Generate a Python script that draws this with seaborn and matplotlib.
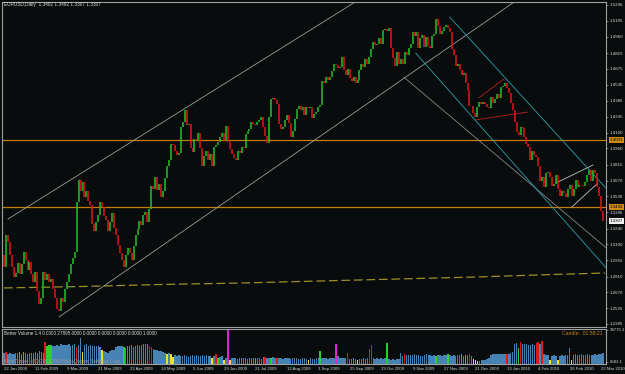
import numpy as np
import pandas as pd
import matplotlib
matplotlib.use("Agg")
import matplotlib.pyplot as plt
import matplotlib.transforms as mtransforms
import seaborn as sns

# EURUSD daily closes, one row per 16-bar date label on the x axis
first_open = 1.300
closes_a = [
    1.290, 1.318, 1.312, 1.300, 1.290, 1.281, 1.284, 1.293, 1.283, 1.292, 1.303, 1.296, 1.287, 1.294, 1.283, 1.276,
    1.285, 1.268, 1.256, 1.262, 1.285, 1.278, 1.283, 1.276, 1.279, 1.270, 1.262, 1.252, 1.250, 1.262, 1.258, 1.270,
    1.276, 1.283, 1.292, 1.298, 1.303, 1.348, 1.368, 1.358, 1.366, 1.352, 1.358, 1.349, 1.345, 1.328, 1.322, 1.330,
    1.336, 1.348, 1.343, 1.335, 1.332, 1.322, 1.330, 1.338, 1.325, 1.318, 1.309, 1.302, 1.296, 1.290, 1.300, 1.307,
]
closes_b = [
    1.302, 1.296, 1.308, 1.318, 1.324, 1.331, 1.327, 1.336, 1.339, 1.330, 1.342, 1.362, 1.360, 1.370, 1.359, 1.364,
    1.352, 1.358, 1.369, 1.380, 1.386, 1.400, 1.399, 1.394, 1.390, 1.392, 1.415, 1.420, 1.430, 1.417, 1.418, 1.396,
    1.393, 1.404, 1.403, 1.410, 1.396, 1.380, 1.389, 1.394, 1.386, 1.391, 1.380, 1.397, 1.399, 1.402, 1.406, 1.410,
    1.403, 1.416, 1.402, 1.395, 1.391, 1.387, 1.386, 1.394, 1.392, 1.397, 1.396, 1.409, 1.412, 1.413, 1.420, 1.418,
]
closes_c = [
    1.417, 1.420, 1.421, 1.424, 1.415, 1.407, 1.401, 1.424, 1.440, 1.441, 1.439, 1.436, 1.418, 1.413, 1.415, 1.421,
    1.426, 1.419, 1.406, 1.412, 1.422, 1.431, 1.434, 1.430, 1.433, 1.426, 1.433, 1.432, 1.433, 1.423, 1.427, 1.429,
    1.433, 1.435, 1.456, 1.455, 1.460, 1.457, 1.460, 1.465, 1.472, 1.471, 1.468, 1.469, 1.478, 1.466, 1.462, 1.467,
    1.459, 1.456, 1.460, 1.455, 1.457, 1.466, 1.472, 1.469, 1.476, 1.472, 1.478, 1.485, 1.491, 1.489, 1.490, 1.495,
]
closes_d = [
    1.490, 1.502, 1.503, 1.501, 1.504, 1.486, 1.477, 1.470, 1.482, 1.472, 1.476, 1.472, 1.482, 1.480, 1.486, 1.490,
    1.500, 1.497, 1.500, 1.486, 1.495, 1.498, 1.487, 1.496, 1.488, 1.486, 1.497, 1.499, 1.512, 1.506, 1.499, 1.501,
    1.505, 1.507, 1.504, 1.500, 1.485, 1.480, 1.470, 1.472, 1.466, 1.462, 1.464, 1.455, 1.448, 1.434, 1.434, 1.428,
    1.424, 1.433, 1.438, 1.436, 1.438, 1.436, 1.433, 1.432, 1.442, 1.437, 1.440, 1.445, 1.441, 1.451, 1.452, 1.455,
]
closes_e = [
    1.450, 1.446, 1.437, 1.430, 1.420, 1.411, 1.408, 1.415, 1.414, 1.406, 1.400, 1.397, 1.386, 1.394, 1.390, 1.388,
    1.380, 1.367, 1.370, 1.361, 1.374, 1.375, 1.370, 1.362, 1.364, 1.372, 1.360, 1.353, 1.358, 1.356, 1.352, 1.360,
    1.363, 1.353, 1.360, 1.368, 1.361, 1.363, 1.363, 1.362, 1.366, 1.372, 1.377, 1.367, 1.377, 1.374, 1.361, 1.353,
    1.3402, 1.3307,
]

# Better Volume histogram, thousands of ticks, and its colour code per bar
volume_a = [
    30, 33, 28, 31, 29, 27, 30, 32, 34, 29, 33, 30, 28, 31, 30, 32,
    33, 30, 36, 34, 31, 62, 50, 52, 54, 51, 49, 53, 50, 55, 52, 54,
    52, 55, 50, 53, 56, 48, 54, 72, 34, 52, 55, 50, 53, 49, 51, 50,
    50, 48, 39, 36, 33, 30, 35, 38, 40, 48, 50, 51, 49, 47, 45, 50,
]
volume_b = [
    50, 52, 48, 51, 53, 49, 52, 55, 57, 56, 50, 48, 42, 40, 38, 35,
    36, 33, 30, 28, 30, 27, 20, 24, 22, 25, 23, 21, 24, 22, 20, 23,
    24, 22, 25, 21, 23, 26, 22, 24, 21, 23, 18, 22, 28, 17, 20, 22,
    12, 18, 94.8, 11, 17, 16, 18, 15, 17, 16, 18, 17, 15, 16, 17, 18,
]
volume_c = [
    18, 16, 17, 15, 19, 20, 17, 16, 18, 19, 17, 18, 16, 17, 15, 16,
    17, 16, 15, 17, 18, 16, 15, 14, 16, 17, 15, 10, 16, 15, 14, 16,
    16, 36, 17, 18, 16, 15, 17, 16, 18, 56, 22, 17, 16, 18, 17, 31,
    15, 14, 16, 15, 11, 14, 15, 16, 14, 17, 42, 53, 17, 15, 16, 14,
]
volume_d = [
    16, 15, 17, 58, 14, 12, 15, 11, 13, 14, 31, 22, 28, 25, 24, 26,
    25, 27, 24, 26, 23, 22, 25, 27, 24, 26, 23, 25, 22, 26, 24, 23,
    26, 24, 27, 25, 23, 26, 22, 25, 24, 27, 23, 26, 24, 28, 22, 13,
    11, 9, 8, 12, 11, 10, 13, 18, 26, 28, 27, 29, 28, 27, 29, 28,
]
volume_e = [
    29, 27, 30, 34, 55, 58, 45, 60, 57, 55, 56, 54, 52, 55, 53, 58,
    62, 56, 64, 28, 24, 26, 11, 22, 25, 23, 11, 21, 24, 22, 26, 25,
    45, 11, 26, 28, 25, 24, 27, 26, 25, 28, 24, 26, 25, 27, 26, 28,
    27, 31,
]
volume_kind = (
    "brbbbbbbgbgbbbbb" "bbbbbrgggbbbbbbb" "bbbbbrbbybbbbbbb" "bbybbbbbbbbbbgbb"
    "bbbbbbbbbbrrbbbb" "bbbybyybbbbbbbbb" "bbbbbbbbbbybrgbb" "ybmybbbbbbbbbbbb"
    "gbbbbrbbgbbrbbbb" "bbbbbbbbbbbybbbb" "bgbbbbbbbmbbbbbr" "bbbbybbbbbrrbbbb"
    "bbbgbbbbbbbbrbbb" "bbbbbbbbbbbbgbbb" "bbgbbbbbbgbgbrby" "yybbbbbbbbbbbbbb"
    "rbbbbbgrbbbbbbbr" "rbrbbbybbbybbbbb" "bybbbbbbbbbbbbbb" "bb"
)

date_labels = ["22 Jan 2009", "11 Feb 2009", "9 Mar 2009", "31 Mar 2009", "22 Apr 2009",
               "14 May 2009", "5 Jun 2009", "29 Jun 2009", "21 Jul 2009", "12 Aug 2009",
               "3 Sep 2009", "25 Sep 2009", "19 Oct 2009", "9 Nov 2009", "27 Nov 2009",
               "21 Dec 2009", "13 Jan 2010", "4 Feb 2010", "26 Feb 2010", "22 Mar 2010"]
price_ticks = [1.5246, 1.5105, 1.4960, 1.4815, 1.4675, 1.4530, 1.4385, 1.4245, 1.4100, 1.3960,
               1.3815, 1.3670, 1.3530, 1.3385, 1.3240, 1.3100, 1.2955, 1.2810, 1.2670, 1.2525, 1.2385]
levels = [1.4033, 1.3432]
last_price = 1.3307

# long moving average (dashed), read at a few bars
ma_bars = [0, 40, 80, 120, 160, 200, 240, 280, 306]
ma_values = [1.2708, 1.2721, 1.2739, 1.2752, 1.2770, 1.2788, 1.2806, 1.2829, 1.2842]

# hand drawn trend lines: (bar, price) end points
channel_top = ([2, 190], [1.3326, 1.5396])
channel_bottom = ([28, 275], [1.2447, 1.5459])
break_line = ([203.5, 307], [1.4600, 1.3062])
down_top = ([226.9, 307], [1.5138, 1.3593])
down_bottom = ([209.6, 307], [1.4815, 1.2880])
pennant_top = ([241.7, 254.5], [1.4412, 1.4582])
pennant_bottom = ([240.2, 266.7], [1.4215, 1.4286])
wedge_top = ([281.0, 299.9], [1.3649, 1.3811])
wedge_bottom = ([289.1, 302.4], [1.3434, 1.3649])

BG = "#090c0c"
FRAME = "#a0a0a0"
TXT = "#dcdcdc"

sns.set_style("dark", {"axes.facecolor": BG, "figure.facecolor": BG,
                       "axes.edgecolor": FRAME, "axes.grid": False})
plt.rcParams["font.family"] = ["Liberation Sans", "DejaVu Sans"]

closes = np.array(closes_a + closes_b + closes_c + closes_d + closes_e)
volumes = np.array(volume_a + volume_b + volume_c + volume_d + volume_e)
n = len(closes)
bars = np.arange(n)
opens = np.concatenate([[first_open], closes[:-1]])

fig = plt.figure(figsize=(6.25, 3.74), dpi=100)
ax1 = fig.add_axes([2 / 625, 47 / 374, 604 / 625, 325 / 374])
ax2 = fig.add_axes([2 / 625, 10 / 374, 604 / 625, 35 / 374])

# price pane
ax1.axhline(levels[0], color="#c27c0e", lw=0.9, zorder=1)
ax1.axhline(levels[1], color="#c27c0e", lw=0.9, zorder=1)
sns.lineplot(x=ma_bars, y=ma_values, ax=ax1, color="#9c8f25", lw=0.9,
             linestyle=(0, (7, 3)), zorder=1)

for line, col in [(channel_top, "#9c9c9c"), (channel_bottom, "#9c9c9c"),
                  (break_line, "#858585"), (down_top, "#2c9fae"),
                  (down_bottom, "#2c9fae"), (pennant_top, "#b81e1a"),
                  (pennant_bottom, "#b81e1a"), (wedge_top, "#c8c0c0"),
                  (wedge_bottom, "#c8c0c0")]:
    ax1.plot(line[0], line[1], color=col, lw=0.6, zorder=2)

up = closes >= opens
cols = np.where(up, "#25c22a", "#e3141a")
ax1.vlines(bars, np.minimum(opens, closes), np.maximum(opens, closes),
           colors=cols, lw=1.1, zorder=3)

ax1.set_xlim(-1, 306.5)
ax1.set_ylim(1.23577, 1.52729)
ax1.set_xticks([])
ax1.yaxis.tick_right()
ax1.set_yticks(price_ticks)
ax1.set_yticklabels(["%.4f" % v for v in price_ticks])
ax1.tick_params(axis="y", colors=FRAME, labelcolor=TXT, labelsize=3.2,
                length=1.5, width=0.5, pad=1)
ax1.set_xlabel("")
ax1.set_ylabel("")

blend = mtransforms.blended_transform_factory(ax1.transAxes, ax1.transData)
for v, fc in [(levels[0], "#d08a10"), (levels[1], "#d08a10"), (last_price, "#f0f0f0")]:
    ax1.text(1.006, v, "%.4f" % v, transform=blend, ha="left", va="center",
             fontsize=3.2, color="black", zorder=6, clip_on=False,
             bbox=dict(boxstyle="square,pad=0.2", fc=fc, ec="none"))

ax1.text(0.004, 0.991, "EURUSD,Daily  1.3402 1.3492 1.3307 1.3307",
         transform=ax1.transAxes, ha="left", va="center", fontsize=3.4, color=TXT)

# volume pane
palette = {"b": "#4682b4", "r": "#e01818", "g": "#2cd02c", "y": "#f0e020", "m": "#e020e0"}
vol_colors = [palette[k] for k in volume_kind]
ax2.bar(bars, volumes, width=0.75, color=vol_colors, linewidth=0, zorder=2)

ax2.set_xlim(-1, 306.5)
ax2.set_ylim(0, 97.5)
ax2.yaxis.tick_right()
ax2.set_yticks([6.5831, 94.7751])
ax2.set_yticklabels(["6583.1", "94775.1"])
ax2.set_xticks(np.arange(0, n, 16))
ax2.set_xticklabels(date_labels, ha="left")
ax2.tick_params(axis="both", colors=FRAME, labelcolor=TXT, labelsize=3.1,
                length=1.5, width=0.5, pad=1)

ax2.text(0.004, 0.88, "Better Volume 1.4 0.0000 27895.0000 0.0000 0.0000 0.0000 0.0000 1.0000",
         transform=ax2.transAxes, ha="left", va="center", fontsize=3.3, color=TXT)
ax2.text(0.994, 0.88, "Candle:  01:58:21", transform=ax2.transAxes, ha="right",
         va="center", fontsize=3.7, color="#c8861a")
ax2.text(0.004, 0.08, "MetaTrader - (C) 2001-2009 MetaQuotes Software Corp.",
         transform=ax2.transAxes, ha="left", va="center", fontsize=3.3,
         color="#9a9a9a", zorder=4)

for ax in (ax1, ax2):
    for s in ax.spines.values():
        s.set_color(FRAME)
        s.set_linewidth(0.8)

fig.savefig("out.png", dpi=100, facecolor=BG)
